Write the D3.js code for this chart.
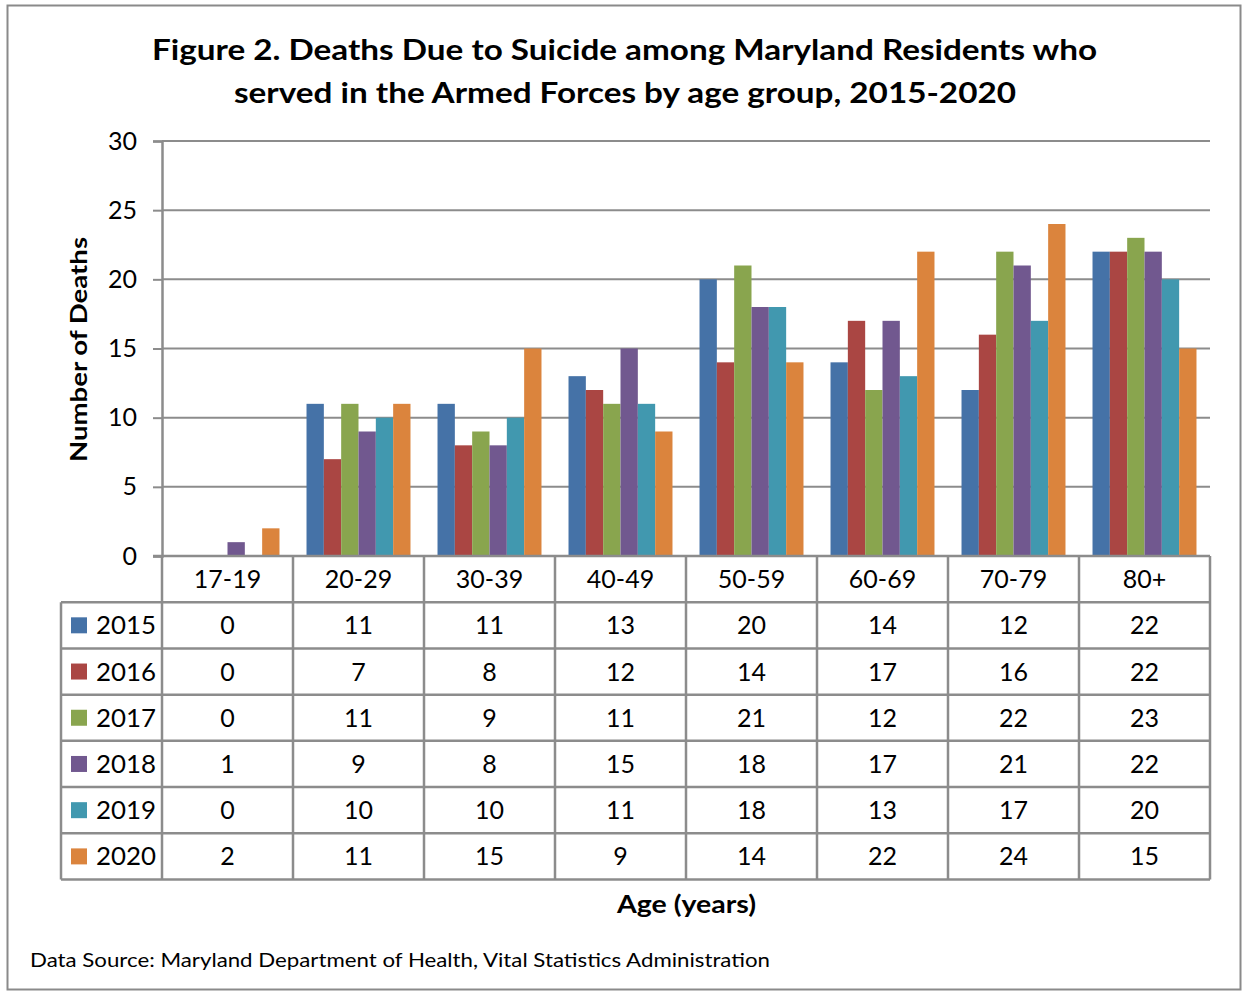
<!DOCTYPE html>
<html lang="en">
<head>
<meta charset="UTF-8">
<title>Deaths Due to Suicide among Maryland Veterans</title>
<script src="https://d3js.org/d3.v7.min.js"></script>
<style>
    body { margin: 0; background: #fff; }
    text { font-family: Lato, "Open Sans", sans-serif; fill: #000; }
    .grid line { stroke: #8c8c8c; stroke-width: 2; }
    .tick-lbl { font-size: 25px; }
    .cell { font-size: 25px; }
</style>
</head>
<body>
<div id="chart"></div>
<script>
    // chart data
    const ageGroups = ["17-19", "20-29", "30-39", "40-49", "50-59", "60-69", "70-79", "80+"];
    const years = ["2015", "2016", "2017", "2018", "2019", "2020"];
    const deaths2015 = [0, 11, 11, 13, 20, 14, 12, 22];
    const deaths2016 = [0, 7, 8, 12, 14, 17, 16, 22];
    const deaths2017 = [0, 11, 9, 11, 21, 12, 22, 23];
    const deaths2018 = [1, 9, 8, 15, 18, 17, 21, 22];
    const deaths2019 = [0, 10, 10, 11, 18, 13, 17, 20];
    const deaths2020 = [2, 11, 15, 9, 14, 22, 24, 15];
    const yTicks = [0, 5, 10, 15, 20, 25, 30];

    const series = [deaths2015, deaths2016, deaths2017, deaths2018, deaths2019, deaths2020];
    const colors = ["#4572A7", "#AA4643", "#89A54E", "#71588F", "#4198AF", "#DB843D"];

    const W = 1243, H = 993;
    const plot = { left: 162, right: 1210, top: 141, bottom: 556 };
    const rowH = 46.5;
    const tableLeft = 61;
    const gridColor = "#8c8c8c";

    const svg = d3.select("#chart").append("svg")
        .attr("width", W).attr("height", H);

    // outer frame
    svg.append("rect")
        .attr("x", 7.5).attr("y", 5.5)
        .attr("width", 1233).attr("height", 984)
        .attr("fill", "#fff").attr("stroke", "#8a8a8a").attr("stroke-width", 2);

    // title
    const title = svg.append("text")
        .style("font-size", "29px").style("font-weight", "bold");
    title.append("tspan").attr("x", 152).attr("y", 60)
        .attr("textLength", 945).attr("lengthAdjust", "spacingAndGlyphs")
        .text("Figure 2. Deaths Due to Suicide among Maryland Residents who");
    title.append("tspan").attr("x", 234).attr("y", 103)
        .attr("textLength", 782).attr("lengthAdjust", "spacingAndGlyphs")
        .text("served in the Armed Forces by age group, 2015-2020");

    const x0 = d3.scaleBand().domain(ageGroups).range([plot.left, plot.right]);
    const x1 = d3.scaleBand().domain(years).range([0, x0.bandwidth()]).paddingOuter(0.78);
    const y = d3.scaleLinear().domain([0, 30]).range([plot.bottom, plot.top]);

    // gridlines
    svg.append("g").attr("class", "grid")
        .selectAll("line").data(yTicks.filter(d => d > 0)).join("line")
        .attr("x1", plot.left).attr("x2", plot.right)
        .attr("y1", d => y(d)).attr("y2", d => y(d));

    // bars
    years.forEach((yr, i) => {
        svg.append("g").selectAll("rect")
            .data(series[i].map((v, j) => ({ age: ageGroups[j], v })))
            .join("rect")
            .attr("x", d => x0(d.age) + x1(yr))
            .attr("width", x1.bandwidth())
            .attr("y", d => y(d.v))
            .attr("height", d => y(0) - y(d.v))
            .attr("fill", colors[i]);
    });

    // y axis
    const yAxis = svg.append("g")
        .attr("transform", `translate(${plot.left},0)`)
        .call(d3.axisLeft(y).tickValues(yTicks).tickSize(9).tickPadding(16));
    yAxis.select(".domain").attr("stroke", gridColor).attr("stroke-width", 2.5);
    yAxis.selectAll(".tick line").attr("stroke", gridColor).attr("stroke-width", 2);
    yAxis.selectAll(".tick text").attr("class", "tick-lbl")
        .style("font-family", "Lato, sans-serif").attr("fill", "#000");

    svg.append("text")
        .attr("transform", `translate(87,${(237 + 462) / 2}) rotate(-90)`)
        .attr("text-anchor", "middle")
        .attr("textLength", 225).attr("lengthAdjust", "spacingAndGlyphs")
        .style("font-size", "23px").style("font-weight", "bold")
        .text("Number of Deaths");

    // data table
    const table = svg.append("g");
    const tableBottom = plot.bottom + rowH * 7 - 2;
    const lineStyle = sel => sel.attr("stroke", gridColor).attr("stroke-width", 2.5);
    const rowY = r => plot.bottom + r * (tableBottom - plot.bottom) / 7;

    // horizontal lines
    table.append("line").call(lineStyle)
        .attr("x1", plot.left - 9).attr("x2", plot.right).attr("y1", plot.bottom).attr("y2", plot.bottom);
    d3.range(1, 8).forEach(r => {
        table.append("line").call(lineStyle)
            .attr("x1", tableLeft).attr("x2", plot.right).attr("y1", rowY(r)).attr("y2", rowY(r));
    });
    // vertical lines
    table.append("line").call(lineStyle)
        .attr("x1", tableLeft).attr("x2", tableLeft).attr("y1", rowY(1)).attr("y2", tableBottom);
    d3.range(ageGroups.length + 1).forEach(j => {
        const xx = plot.left + j * x0.step();
        table.append("line").call(lineStyle)
            .attr("x1", xx).attr("x2", xx).attr("y1", plot.bottom).attr("y2", tableBottom);
    });

    // header row
    table.selectAll(".hdr").data(ageGroups).join("text")
        .attr("class", "cell")
        .attr("x", d => x0(d) + x0.bandwidth() / 2)
        .attr("y", (rowY(0) + rowY(1)) / 2 + 9)
        .attr("text-anchor", "middle")
        .text(d => d);

    // year rows
    years.forEach((yr, i) => {
        const cy = (rowY(i + 1) + rowY(i + 2)) / 2;
        table.append("rect")
            .attr("x", 71).attr("y", cy - 8).attr("width", 16).attr("height", 16)
            .attr("fill", colors[i]);
        table.append("text").attr("class", "cell")
            .attr("x", 96).attr("y", cy + 9)
            .attr("textLength", 60).attr("lengthAdjust", "spacingAndGlyphs")
            .text(yr);
        table.append("g").selectAll("text")
            .data(series[i].map((v, j) => ({ age: ageGroups[j], v })))
            .join("text").attr("class", "cell")
            .attr("x", d => x0(d.age) + x0.bandwidth() / 2)
            .attr("y", cy + 9)
            .attr("text-anchor", "middle")
            .text(d => d.v);
    });

    // x axis title
    svg.append("text")
        .attr("x", 617).attr("y", 913)
        .attr("textLength", 139).attr("lengthAdjust", "spacingAndGlyphs")
        .style("font-size", "24px").style("font-weight", "bold")
        .text("Age (years)");

    // source note
    svg.append("text")
        .attr("x", 30).attr("y", 967)
        .attr("textLength", 740).attr("lengthAdjust", "spacingAndGlyphs")
        .style("font-size", "20px")
        .text("Data Source: Maryland Department of Health, Vital Statistics Administration");
</script>
</body>
</html>
